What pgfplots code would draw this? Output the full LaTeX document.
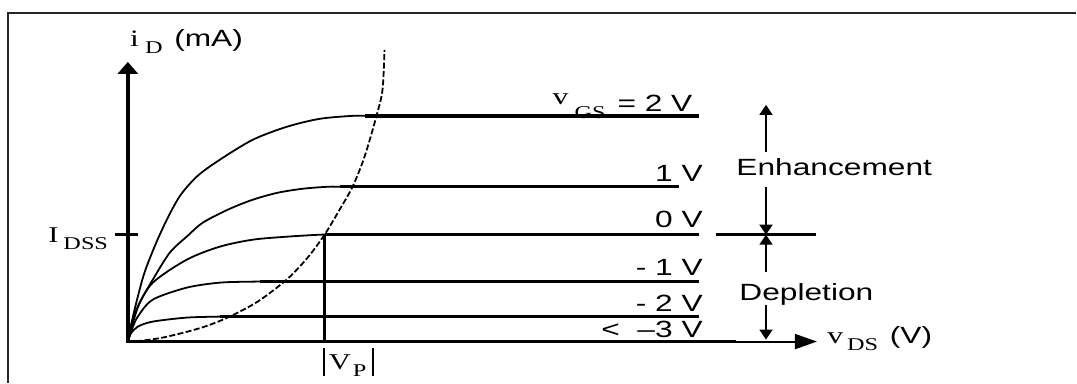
\documentclass[border=0pt]{standalone}
\usepackage{fontspec}
\setmainfont{Liberation Sans}[FakeStretch=1.35]
\newfontfamily\symfont{Liberation Serif}[FakeStretch=1.35]
\usepackage{pgfplots}
\pgfplotsset{compat=1.18}
\usetikzlibrary{arrows.meta}

% small lowered subscript set in the serif face
\newcommand\subs[1]{\raisebox{-0.55ex}{\fontsize{9}{10}\selectfont\symfont #1}}
% tall absolute-value bar
\newcommand\absbar{\rule[-3pt]{0.9pt}{14pt}}

\begin{document}
\begin{tikzpicture}[
  lab/.style={font=\fontsize{11.75}{14}\selectfont, inner sep=0pt},
  curve/.style={line width=0.9pt, smooth},
  sat/.style={line width=#1},
  tipS/.style={-{Triangle[width=6.5pt,length=5pt]}, line width=0.9pt},
]
\begin{axis}[hide axis, scale only axis,
  width=538.5pt, height=191.5pt,
  xmin=-128, xmax=949, ymin=-41, ymax=342, clip=false]

\fill[white] (rel axis cs:0,0) rectangle (rel axis cs:1,1);
% outer frame
\draw[line width=1.4pt, black!85] (axis cs:-120,-41) -- (axis cs:-120,329) -- (axis cs:949,329);

% ohmic-region curves for each v_GS
\addplot[curve] coordinates {(0,0) (4,20) (10,45) (17,70) (28,98) (40,124) (53,147) (70,166) (92,182) (125,202) (159,215) (192,223) (225,226) (240,226)};
\addplot[curve] coordinates {(0,0) (6,22) (12,39) (25,62) (42,89) (60,106) (75,119) (100,132) (125,142) (150,149) (175,153) (200,155) (214,155)};
\addplot[curve] coordinates {(0,0) (3,15) (10,35) (25,59) (59,82) (92,95) (125,102) (159,105) (192,107) (199,107)};
\addplot[curve] coordinates {(0,0) (4,12) (10,25) (25,42) (59,54) (92,59) (125,60) (134,60)};
\addplot[curve] coordinates {(0,0) (3,8) (10,15) (25,20) (59,24) (92,25) (96,25)};

% saturation lines
\addplot[sat=1.7pt] coordinates {(237,226) (572,226)};
\addplot[sat=1.3pt] coordinates {(212,155) (552,155)};
\addplot[sat=1.8pt] coordinates {(197,107) (572,107)};
\addplot[sat=1.3pt] coordinates {(132,60) (572,60)};
\addplot[sat=1.2pt] coordinates {(92,25) (572,25)};

% pinch-off locus
\addplot[line width=0.9pt, smooth, dash pattern=on 3pt off 1.2pt] coordinates {(0,0) (15,1) (35,4) (60,10) (80,16) (102,25) (130,40) (159,62) (180,84) (197,107) (212,132) (225,155) (237,185) (249,226) (255,252) (257,292)};

% |V_P| marker and I_DSS tick
\addplot[sat=1.8pt] coordinates {(197,0) (197,107)};
\addplot[sat=1.4pt] coordinates {(-13,107) (10,107)};

% axes
\addplot[line width=1.8pt, {Triangle[width=10pt,length=6pt]}-] coordinates {(0,280) (0,0) (609,0)};
\addplot[line width=1pt, -{Triangle[width=7.5pt,length=11pt]}] coordinates {(608,0) (690,0)};

% enhancement / depletion arrows
\addplot[tipS] coordinates {(639,190) (639,237)};
\addplot[tipS] coordinates {(639,155) (639,107)};
\addplot[tipS] coordinates {(639,70) (639,107)};
\addplot[tipS] coordinates {(639,37) (639,2)};
\addplot[sat=1.4pt] coordinates {(589,107) (689,107)};

% labels
\node[lab, anchor=base west] at (axis cs:425,230) {\raisebox{0.6ex}{\symfont v}\hspace{3pt}\subs{GS}\hspace{6pt}= 2 V};
\node[lab, anchor=base east] at (axis cs:576,160) {1 V};
\node[lab, anchor=base east] at (axis cs:576,114) {0 V};
\node[lab, anchor=base east] at (axis cs:576,66) {- 1 V};
\node[lab, anchor=base east] at (axis cs:576,30) {- 2 V};
\node[lab, anchor=base east] at (axis cs:576,4) {<\ \ –3 V};
\node[lab, anchor=base west] at (axis cs:609,166) {Enhancement};
\node[lab, anchor=base west] at (axis cs:612,41) {Depletion};
\node[lab, anchor=base west] at (axis cs:2,295) {{\symfont i}\hspace{3pt}\subs{D}\enspace(mA)};
\node[lab, anchor=base west] at (axis cs:700,-2) {{\symfont v}\hspace{2pt}\subs{DS}\enspace(V)};
\node[lab, anchor=base west] at (axis cs:-80,99) {{\symfont\fontsize{11.3}{13}\selectfont I}\hspace{2.5pt}\subs{DSS}};
\node[lab, anchor=base west] at (axis cs:195,-28) {\absbar\hspace{2pt}{\symfont\fontsize{11.3}{13}\selectfont V}\hspace{1pt}\subs{P}\hspace{3pt}\absbar};
\end{axis}
\end{tikzpicture}
\end{document}
